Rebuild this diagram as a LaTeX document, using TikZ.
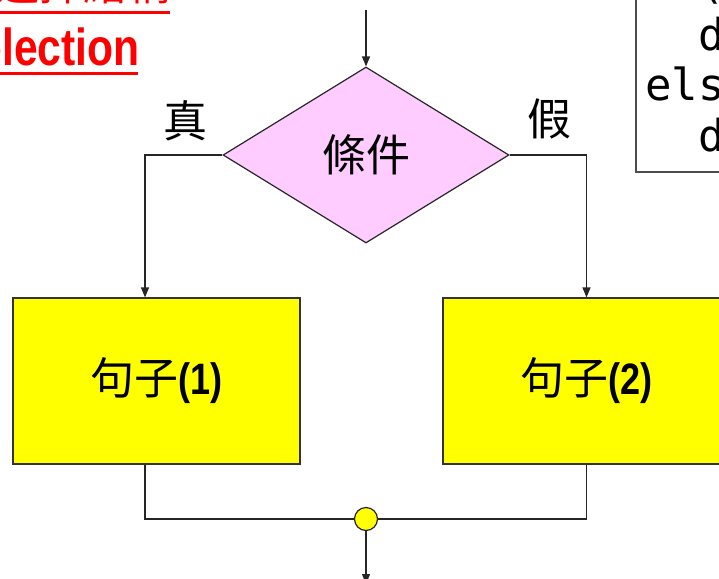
\documentclass[tikz,border=0pt]{standalone}
\usepackage{fontspec}
\setmainfont{Liberation Sans}
\newfontfamily\cjk{Noto Sans CJK TC}
\newfontfamily\narrowbold[FakeStretch=0.82]{Liberation Sans Bold}
\newfontfamily\codemono{DejaVu Sans Mono}
\usetikzlibrary{shapes.geometric,arrows.meta}
\definecolor{pinkfill}{HTML}{FFCCFF}
\definecolor{yelfill}{HTML}{FFFF00}
\definecolor{redtxt}{HTML}{FF0000}
\tikzset{
  line/.style={line width=1.2pt, draw=black!85},
  arr/.style={line, -{Triangle[length=10pt,width=8pt]}},
  cjkbig/.style={font=\cjk\fontsize{44}{48}\selectfont, inner sep=0pt},
  stmt/.style={rectangle, draw=black!80, line width=1.2pt, fill=yelfill,
     minimum width=287pt, minimum height=166pt, inner sep=0pt,
     font=\fontsize{44}{48}\selectfont},
  cond/.style={diamond, draw=black!85, line width=1.2pt, fill=pinkfill,
     minimum width=286pt, minimum height=176pt, inner sep=0pt,
     font=\cjk\fontsize{44}{48}\selectfont},
  codeline/.style={anchor=base west, inner sep=0pt, font=\codemono\fontsize{44}{48}\selectfont}
}
\begin{document}
\begin{tikzpicture}[x=1pt,y=-1pt]
\useasboundingbox (0,0) rectangle (719,578);
\clip (0,0) rectangle (719,578);
% title fragments
\node[anchor=base east, inner sep=0pt, text=redtxt, font=\cjk\fontsize{44}{48}\selectfont] (title1) at (172,1) {選擇結構};
\draw[redtxt, line width=3pt] (0,12.5) -- (170,12.5);
\node[anchor=base east, inner sep=0pt, text=redtxt, font=\narrowbold\fontsize{52}{56}\selectfont] (title2) at (140,65) {Selection};
\draw[redtxt, line width=3pt] (0,73) -- (138,73);
% code box
\draw[line width=1.2pt, draw=black!70] (745,172) -| (636,-50);
\node[codeline] (c1) at (645,-1) {if(a>b)};
\node[codeline] (c2) at (645,50) {~~do1;};
\node[codeline] (c3) at (645,100) {else};
\node[codeline] (c4) at (645,151) {~~do2;};
% flowchart
\coordinate (in) at (366,10);
\node[cond] (c) at (366,155) {條件};
\node[stmt] (b1) at (156.5,381) {{\cjk 句子}{\narrowbold (1)}};
\node[stmt] (b2) at (586.5,381) {{\cjk 句子}{\narrowbold (2)}};
\node[circle, draw=black!85, line width=1.2pt, fill=yelfill, minimum size=23pt, inner sep=0pt] (j) at (366,519) {};
\coordinate (out) at (366,584);
\node[cjkbig] (t) at (185,121) {真};
\node[cjkbig] (f) at (549,119) {假};
\draw[arr] (in) -- (c.north);
\draw[arr] (c.west) -| ([xshift=-11.5pt]b1.north);
\draw[arr] (c.east) -| (b2.north);
\draw[line] ([xshift=-11.5pt]b1.south) |- (j.west);
\draw[line] (b2.south) |- (j.east);
\draw[arr] (j.south) -- (out);
\end{tikzpicture}
\end{document}
